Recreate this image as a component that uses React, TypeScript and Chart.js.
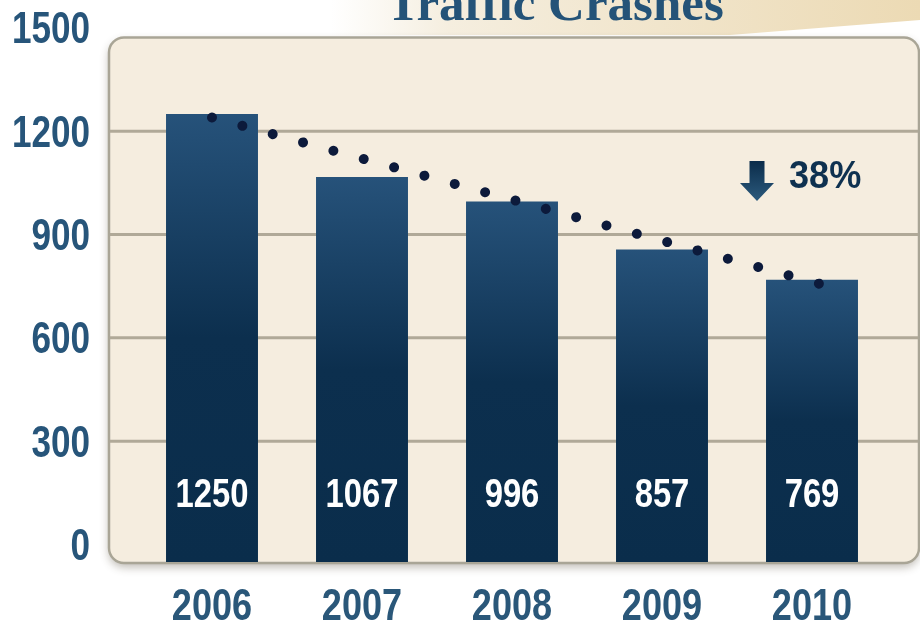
import React, { useEffect, useRef } from "react";
import { Chart, registerables } from "chart.js";

Chart.register(...registerables);

const years = ["2006", "2007", "2008", "2009", "2010"];
const crashes = [1250, 1067, 996, 857, 769];
// trend line ends, x in category-index units
const trendX = [0, 4.05];
const trendValues = [1240, 757];
const yTickValues = [0, 300, 600, 900, 1200, 1500];
const gridValues = [300, 600, 900, 1200];
const changeLabel = "38%";
const titleText = "Traffic Crashes";

const SANS = "'Liberation Sans', Arial, sans-serif";

// draw text squeezed horizontally (condensed look) around its anchor
function drawCondensed(ctx: any, text: string, x: number, y: number, factor: number) {
  ctx.save();
  ctx.translate(x, y);
  ctx.scale(factor, 1);
  ctx.fillText(text, 0, 0);
  ctx.restore();
}

function condenseScaleLabels(scale: any, factor: number, dy: number) {
  if (scale.__condensed) return;
  scale.__condensed = true;
  scale.drawLabels = function (chartArea: any) {
    const ctx = this.ctx;
    const items = this.getLabelItems(chartArea);
    for (const item of items) {
      const o = item.options;
      ctx.save();
      ctx.font = item.font.string;
      ctx.fillStyle = o.color;
      ctx.textAlign = o.textAlign;
      ctx.textBaseline = o.textBaseline;
      ctx.translate(o.translation[0], o.translation[1]);
      drawCondensed(ctx, String(item.label), 0, item.textOffset + dy, factor);
      ctx.restore();
    }
  };
}

const decorPlugin = {
  id: "decor",
  beforeDraw(chart: any) {
    const { ctx, chartArea: ca, width } = chart;
    const ys = chart.scales.y;
    condenseScaleLabels(chart.scales.y, 0.78, 3);
    condenseScaleLabels(chart.scales.x, 0.82, 1);
    ctx.save();
    ctx.fillStyle = "#ffffff";
    ctx.fillRect(0, 0, chart.width, chart.height);

    // top banner
    const g = ctx.createLinearGradient(330, 0, width, 0);
    g.addColorStop(0, "rgba(246,240,226,0)");
    g.addColorStop(0.2, "#f5eedf");
    g.addColorStop(1, "#ecdab4");
    ctx.fillStyle = g;
    ctx.beginPath();
    ctx.moveTo(330, 0);
    ctx.lineTo(width, 0);
    ctx.lineTo(width, 20);
    ctx.lineTo(730, 35);
    ctx.lineTo(330, 35);
    ctx.closePath();
    ctx.fill();

    // title
    ctx.fillStyle = "#245378";
    ctx.font = "bold 51px 'Liberation Serif', 'Times New Roman', serif";
    ctx.textAlign = "center";
    ctx.textBaseline = "alphabetic";
    ctx.fillText(titleText, 555, 20);

    // panel
    const left = ca.left - 28;
    const right = ca.right + 32;
    const top = ca.top + 9.5;
    const bottom = ca.bottom + 1;
    ctx.shadowColor = "rgba(60,50,30,0.35)";
    ctx.shadowBlur = 10;
    ctx.shadowOffsetY = 4;
    ctx.fillStyle = "#f5eddf";
    ctx.beginPath();
    ctx.roundRect(left, top, right - left, bottom - top, 15);
    ctx.fill();
    ctx.shadowColor = "transparent";
    ctx.lineWidth = 2.5;
    ctx.strokeStyle = "#a9a596";
    ctx.stroke();

    // grid lines
    ctx.strokeStyle = "#b0a998";
    ctx.lineWidth = 3;
    gridValues.forEach((v) => {
      const y = ys.getPixelForValue(v);
      ctx.beginPath();
      ctx.moveTo(left + 1, y);
      ctx.lineTo(right - 1, y);
      ctx.stroke();
    });
    ctx.restore();
  },
  afterDatasetsDraw(chart: any) {
    const { ctx, chartArea: ca } = chart;
    const meta = chart.getDatasetMeta(0);
    ctx.save();
    ctx.fillStyle = "#ffffff";
    ctx.font = `bold 40px ${SANS}`;
    ctx.textAlign = "center";
    ctx.textBaseline = "middle";
    meta.data.forEach((bar: any, i: number) => {
      drawCondensed(ctx, String(crashes[i]), bar.x, ca.bottom - 66, 0.82);
    });

    // arrow + percent
    const ax = 757;
    const at = 161;
    const ag = ctx.createLinearGradient(0, at, 0, at + 40);
    ag.addColorStop(0, "#0b2c4a");
    ag.addColorStop(1, "#2b5a7d");
    ctx.fillStyle = ag;
    ctx.beginPath();
    ctx.moveTo(ax - 7.5, at);
    ctx.lineTo(ax + 7.5, at);
    ctx.lineTo(ax + 7.5, at + 22);
    ctx.lineTo(ax + 17, at + 22);
    ctx.lineTo(ax, at + 40);
    ctx.lineTo(ax - 17, at + 22);
    ctx.lineTo(ax - 7.5, at + 22);
    ctx.closePath();
    ctx.fill();

    ctx.fillStyle = "#0e3150";
    ctx.font = `bold 38px ${SANS}`;
    ctx.textAlign = "left";
    ctx.textBaseline = "middle";
    drawCondensed(ctx, changeLabel, 789, 178, 0.95);
    ctx.restore();
  },
};

export default function App() {
  const ref = useRef<HTMLCanvasElement | null>(null);
  useEffect(() => {
    if (!ref.current) return;
    const chart = new Chart(ref.current, {
      data: {
        labels: years,
        datasets: [
          {
            type: "bar",
            label: "Traffic Crashes",
            data: crashes,
            xAxisID: "x",
            yAxisID: "y",
            base: -51,
            order: 1,
            grouped: false,
            categoryPercentage: 1,
            barPercentage: 0.613,
            backgroundColor: (c: any) => {
              const ch = c.chart;
              if (!ch.chartArea || c.parsed == null) return "#0b2e4c";
              const ys = ch.scales.y;
              const top = ys.getPixelForValue(c.parsed.y);
              const bottom = ch.chartArea.bottom;
              const g = ch.ctx.createLinearGradient(0, top, 0, bottom);
              g.addColorStop(0, "#26527a");
              g.addColorStop(0.5, "#0c2f4e");
              g.addColorStop(1, "#0a2d4b");
              return g;
            },
          } as any,
          {
            type: "line",
            label: "Trend",
            xAxisID: "xt",
            yAxisID: "y",
            data: trendX.map((x, i) => ({ x, y: trendValues[i] })),
            order: 0,
            borderColor: "#0c1a3b",
            borderWidth: 10,
            borderDash: [0.01, 31.45],
            borderCapStyle: "round",
            pointRadius: 0,
            fill: false,
          } as any,
        ],
      },
      options: {
        animation: false,
        responsive: false,
        devicePixelRatio: 1,
        layout: { padding: { left: 9, right: 33, top: 28, bottom: 0 } },
        plugins: { legend: { display: false }, tooltip: { enabled: false }, title: { display: false } },
        scales: {
          x: {
            type: "category",
            offset: true,
            grid: { display: false, drawTicks: false },
            border: { display: false },
            afterFit: (s: any) => {
              s.height = 62;
              s.paddingLeft = 0;
              s.paddingRight = 0;
            },
            ticks: {
              color: "#2a5779",
              font: { family: SANS, size: 44, weight: "bold", lineHeight: 1 },
              padding: 23,
              maxRotation: 0,
              autoSkip: false,
            },
          },
          xt: {
            type: "linear",
            display: false,
            min: -0.5,
            max: 4.5,
          },
          y: {
            min: -51,
            max: 1500,
            grid: { display: false, drawTicks: false },
            border: { display: false },
            afterBuildTicks: (s: any) => {
              s.ticks = yTickValues.map((v) => ({ value: v }));
            },
            afterFit: (s: any) => {
              s.width = 128;
              s.paddingTop = 0;
              s.paddingBottom = 0;
            },
            ticks: {
              color: "#27557a",
              font: { family: SANS, size: 45, weight: "bold" },
              padding: 47,
              callback: (v: any) => String(v),
            },
          },
        },
      } as any,
      plugins: [decorPlugin],
    });
    return () => chart.destroy();
  }, []);
  return (
    <div style={{ position: "fixed", left: 0, top: 0, width: 920, height: 624, background: "#fff" }}>
      <canvas ref={ref} width={920} height={624} />
    </div>
  );
}
